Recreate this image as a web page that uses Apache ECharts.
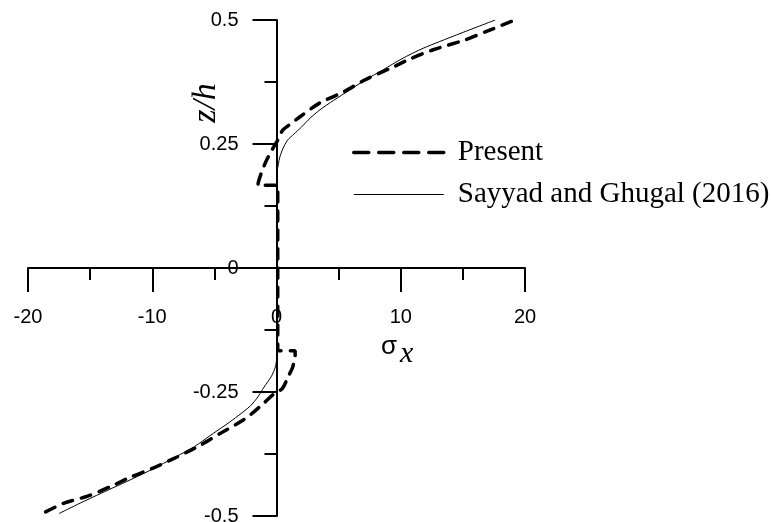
<!DOCTYPE html>
<html>
<head>
<meta charset="utf-8">
<script src="https://cdn.jsdelivr.net/npm/echarts@6/dist/echarts.min.js"></script>
<style>
  html, body { margin: 0; padding: 0; background: #fff; }
  #chart { width: 771px; height: 522px; }
</style>
</head>
<body>
<div id="chart"></div>
<script>
// Through-thickness distribution of the in-plane normal stress sigma_x
// Each point is [sigma_x, z/h]
const seriesNames = ['Present', 'Sayyad and Ghugal (2016)'];

const presentStress = [
  [18.9, 0.497], [17.0, 0.478], [15.2, 0.46], [12.6, 0.44], [10.8, 0.422],
  [9.2, 0.403], [7.1, 0.379], [5.4, 0.355], [3.5, 0.333], [2.0, 0.307],
  [1.0, 0.288], [0.5, 0.278], [0.1, 0.258], [-0.5, 0.232], [-0.9, 0.212],
  [-1.2, 0.193], [-1.45, 0.174], [-1.5, 0.1667],
  [0.1, 0.1667], [0.1, -0.1667],
  [1.5, -0.1667], [1.5, -0.175], [1.3, -0.2], [1.0, -0.216], [0.5, -0.242],
  [0.1, -0.25], [-0.3, -0.256], [-1.0, -0.272], [-2.3, -0.3], [-3.3, -0.316],
  [-4.5, -0.333], [-6.1, -0.357], [-8.0, -0.381], [-9.9, -0.403], [-11.7, -0.421],
  [-13.3, -0.44], [-15.2, -0.46], [-17.1, -0.474], [-19.0, -0.497]
];

const sayyadStress = [
  [17.6, 0.5], [14.5, 0.47], [11.8, 0.443], [10.1, 0.422], [8.6, 0.4],
  [7.2, 0.38], [5.9, 0.359], [4.6, 0.338], [3.5, 0.319], [2.7, 0.302],
  [2.0, 0.284], [1.4, 0.27], [0.9, 0.258], [0.5, 0.24], [0.25, 0.222],
  [0.08, 0.2], [0, 0.185], [0, -0.185],
  [-0.1, -0.2], [-0.4, -0.218], [-1.0, -0.24], [-1.5, -0.26], [-2.1, -0.278],
  [-3.3, -0.302], [-4.3, -0.32], [-5.3, -0.337], [-6.6, -0.36], [-8.8, -0.39],
  [-10.1, -0.407], [-11.5, -0.424], [-14.1, -0.454], [-15.8, -0.474], [-17.5, -0.495]
];

const xTicks = { min: -20, max: 20, interval: 10 };
const yTicks = { min: -0.5, max: 0.5, interval: 0.25 };

const chart = echarts.init(document.getElementById('chart'));

const axisCommon = {
  type: 'value',
  axisLine: { show: true, onZero: false, lineStyle: { color: '#000', width: 2 } },
  axisTick: { show: true, length: 24, lineStyle: { color: '#000', width: 2 } },
  minorTick: { show: true, splitNumber: 2, length: 12, lineStyle: { color: '#000', width: 2 } },
  splitLine: { show: false },
  minorSplitLine: { show: false }
};
const labelFont = { show: true, color: '#000', fontFamily: 'Liberation Sans', fontSize: 20 };

// axes cross at the origin: shift each one inward to the other's zero
const gridBox = { left: 28, right: 246, top: 20, bottom: 6 };
const plotW = 771 - gridBox.left - gridBox.right;
const plotH = 522 - gridBox.top - gridBox.bottom;
const yAxisShift = -plotW * (0 - xTicks.min) / (xTicks.max - xTicks.min);
const xAxisShift = -plotH * (0 - yTicks.min) / (yTicks.max - yTicks.min);

chart.setOption({
  backgroundColor: '#fff',
  animation: false,
  grid: Object.assign({ containLabel: false, outerBoundsMode: 'none' }, gridBox),
  xAxis: Object.assign({}, axisCommon, {
    position: 'bottom',
    offset: xAxisShift,
    min: xTicks.min, max: xTicks.max, interval: xTicks.interval,
    axisLabel: Object.assign({ margin: 39 }, labelFont)
  }),
  yAxis: Object.assign({}, axisCommon, {
    position: 'left',
    offset: yAxisShift,
    min: yTicks.min, max: yTicks.max, interval: yTicks.interval,
    axisLabel: Object.assign({ margin: 38 }, labelFont)
  }),
  legend: {
    orient: 'vertical',
    left: 347,
    top: 133,
    itemWidth: 90,
    itemHeight: 14,
    itemGap: 13,
    itemStyle: { opacity: 0 },
    textStyle: { color: '#000', fontFamily: 'Liberation Serif', fontSize: 29, padding: [0, 0, 0, 9] },
    data: [
      { name: seriesNames[0], lineStyle: { color: '#000', width: 3.5, type: [15, 10], cap: 'round' } },
      { name: seriesNames[1], lineStyle: { color: '#000', width: 1 } }
    ]
  },
  graphic: [
    {
      type: 'text',
      left: 381, top: 334,
      style: {
        text: '{s|σ}{x|x}',
        rich: {
          s: { fontFamily: 'Liberation Sans', fontSize: 26, fill: '#000' },
          x: { fontFamily: 'Liberation Serif', fontStyle: 'italic', fontSize: 30, fill: '#000', padding: [14, 0, 0, 3] }
        }
      }
    },
    {
      type: 'text',
      x: 206, y: 103,
      rotation: Math.PI / 2,
      style: {
        text: 'z/h',
        fontFamily: 'Liberation Serif', fontStyle: 'italic', fontSize: 34,
        fill: '#000', align: 'center', verticalAlign: 'middle'
      }
    }
  ],
  series: [
    {
      name: seriesNames[0],
      type: 'line',
      data: presentStress,
      showSymbol: false,
      symbol: 'none',
      smooth: 0.25,
      itemStyle: { color: '#000' },
      lineStyle: { color: '#000', width: 3.5, type: [10, 9], cap: 'round' }
    },
    {
      name: seriesNames[1],
      type: 'line',
      data: sayyadStress,
      showSymbol: false,
      symbol: 'none',
      smooth: 0.25,
      itemStyle: { color: '#000' },
      lineStyle: { color: '#000', width: 1 }
    }
  ]
});
</script>
</body>
</html>
